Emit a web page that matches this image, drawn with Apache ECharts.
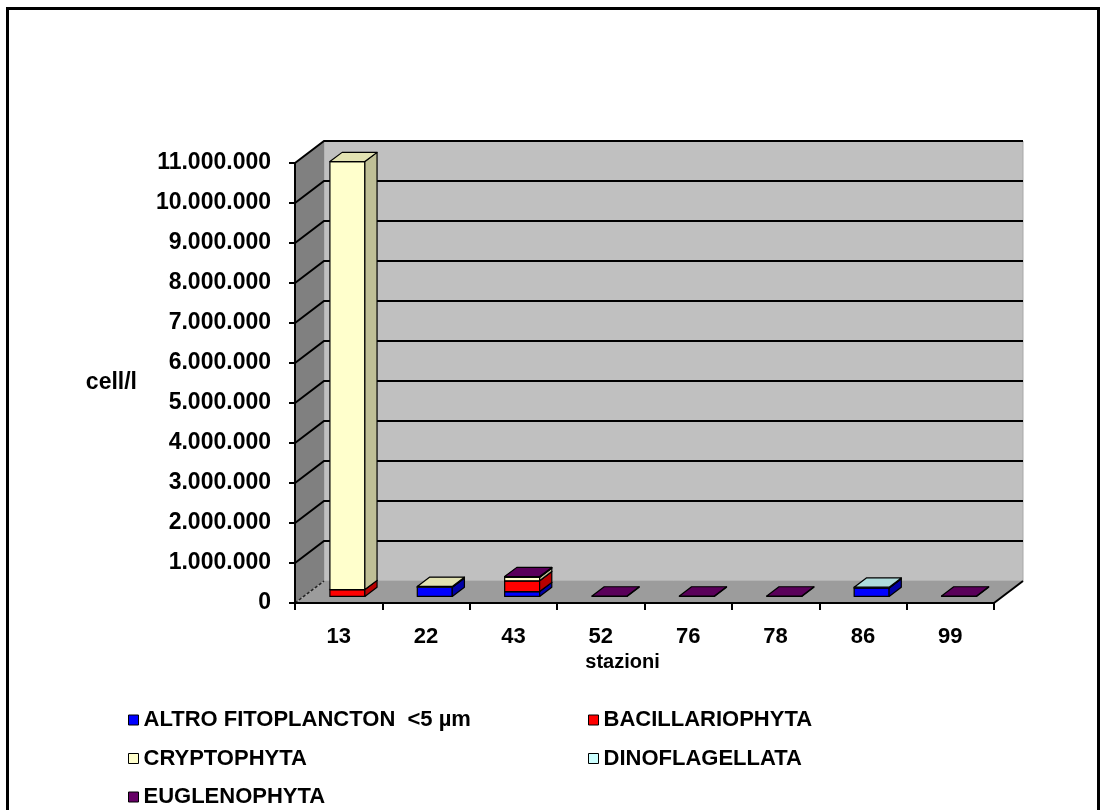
<!DOCTYPE html>
<html>
<head>
<meta charset="utf-8">
<script src="https://cdn.jsdelivr.net/npm/echarts@6.0.0/dist/echarts.min.js"></script>
<style>
  html, body { margin: 0; padding: 0; background: #ffffff; }
  #chart { width: 1106px; height: 810px; }
</style>
</head>
<body>
<div id="chart"></div>
<script>
// Phytoplankton density per station (cell/l), stacked by group
const stazioni = ['13', '22', '43', '52', '76', '78', '86', '99'];
const altroFitoplancton = [0, 230000, 120000, 0, 0, 0, 210000, 0];
const bacillariophyta   = [170000, 0, 270000, 0, 0, 0, 0, 0];
const cryptophyta       = [10700000, 20000, 90000, 0, 0, 0, 0, 0];
const dinoflagellata    = [0, 0, 0, 0, 0, 0, 20000, 0];
const euglenophyta      = [0, 0, 15000, 10000, 10000, 10000, 0, 10000];
const seriesNames = ['ALTRO FITOPLANCTON  <5 µm', 'BACILLARIOPHYTA', 'CRYPTOPHYTA', 'DINOFLAGELLATA', 'EUGLENOPHYTA'];
const seriesValues = [altroFitoplancton, bacillariophyta, cryptophyta, dinoflagellata, euglenophyta];
const yMax = 11000000;
const yStep = 1000000;

// ---- styling ----
const FONT = '"Liberation Sans", Arial, Helvetica, sans-serif';
const DEPTH = [29, -22];     // wall depth projection in px
const BAR_FRONT = 0.3;       // where the column front sits inside the depth
const BAR_DEPTH = 0.42;      // column depth as a share of the wall depth
const BAR_WIDTH = 0.4;       // column width as a share of the category band
const faces = [
  { front: '#0000FF', side: '#0000A8', top: '#2020E0' },
  { front: '#FF0000', side: '#B80000', top: '#E00000' },
  { front: '#FFFFCC', side: '#BFBF96', top: '#E2E2B2' },
  { front: '#CCFFFF', side: '#96BFBF', top: '#AEDCDC' },
  { front: '#660066', side: '#440044', top: '#5A005A' }
];

function fmtThousands(v) {
  return String(v).replace(/\B(?=(\d{3})+(?!\d))/g, '.');
}

// back wall, side wall, floor and gridlines of the 3D box
function renderWalls(params, api) {
  const n = stazioni.length;
  const band = api.size([1, 0])[0];
  const x0 = api.coord([0, 0])[0] - band / 2;
  const x1 = api.coord([n - 1, 0])[0] + band / 2;
  const yb = api.coord([0, 0])[1];
  const yt = api.coord([0, yMax])[1];
  const dx = DEPTH[0], dy = DEPTH[1];
  const children = [
    { type: 'polygon', shape: { points: [[x0 + dx, yt + dy], [x1 + dx, yt + dy], [x1 + dx, yb + dy], [x0 + dx, yb + dy]] },
      style: { fill: '#C0C0C0', stroke: '#A8A8A8', lineWidth: 1 } },
    { type: 'polygon', shape: { points: [[x0, yb], [x0, yt], [x0 + dx, yt + dy], [x0 + dx, yb + dy]] },
      style: { fill: '#808080' } },
    { type: 'polygon', shape: { points: [[x0, yb], [x1, yb], [x1 + dx, yb + dy], [x0 + dx, yb + dy]] },
      style: { fill: '#9C9C9C' } }
  ];
  for (let v = yStep; v <= yMax; v += yStep) {
    const y = api.coord([0, v])[1];
    children.push({ type: 'polyline', shape: { points: [[x0, y], [x0 + dx, y + dy], [x1 + dx, y + dy]] },
      style: { stroke: '#000', lineWidth: 2, fill: null } });
  }
  children.push({ type: 'line', shape: { x1: x0, y1: yb, x2: x0 + dx, y2: yb + dy },
    style: { stroke: '#222', lineWidth: 1.5, lineDash: [3, 2] } });
  children.push({ type: 'line', shape: { x1: x1, y1: yb, x2: x1 + dx, y2: yb + dy },
    style: { stroke: '#000', lineWidth: 2 } });
  return { type: 'group', children: children };
}

// one stacked 3D column segment
function makeBoxRenderer(face) {
  return function (params, api) {
    const ci = api.value(0), lo = api.value(1), hi = api.value(2);
    if (!(hi > lo)) return null;
    const band = api.size([1, 0])[0];
    const pLo = api.coord([ci, lo]);
    const pHi = api.coord([ci, hi]);
    const w = band * BAR_WIDTH;
    const xl = pLo[0] - w / 2 + BAR_FRONT * DEPTH[0];
    const xr = xl + w;
    const yb = pLo[1] + BAR_FRONT * DEPTH[1];
    const yt = pHi[1] + BAR_FRONT * DEPTH[1];
    const bx = BAR_DEPTH * DEPTH[0], by = BAR_DEPTH * DEPTH[1];
    const edge = { stroke: '#000', lineWidth: 1.2, lineJoin: 'round' };
    return {
      type: 'group',
      children: [
        { type: 'polygon', shape: { points: [[xl, yt], [xr, yt], [xr, yb], [xl, yb]] },
          style: Object.assign({ fill: face.front }, edge) },
        { type: 'polygon', shape: { points: [[xr, yb], [xr + bx, yb + by], [xr + bx, yt + by], [xr, yt]] },
          style: Object.assign({ fill: face.side }, edge) },
        { type: 'polygon', shape: { points: [[xl, yt], [xr, yt], [xr + bx, yt + by], [xl + bx, yt + by]] },
          style: Object.assign({ fill: face.top }, edge) }
      ]
    };
  };
}

// stack the groups station by station
const stackBase = stazioni.map(() => 0);
const barSeries = seriesValues.map((vals, s) => {
  const data = vals.map((v, i) => {
    const lo = stackBase[i];
    stackBase[i] += v;
    return [i, lo, lo + v];
  });
  return {
    name: seriesNames[s],
    type: 'custom',
    z: 3,
    clip: false,
    itemStyle: { color: faces[s].front },
    encode: { x: 0, y: [1, 2] },
    renderItem: makeBoxRenderer(faces[s]),
    data: data
  };
});

const legendText = { fontFamily: FONT, fontWeight: 'bold', fontSize: 22, color: '#000', lineHeight: 24 };
const legendCommon = {
  orient: 'vertical', top: 708, padding: 0, itemGap: 14.5,
  itemWidth: 10, itemHeight: 10, icon: 'rect', selectedMode: false,
  itemStyle: { borderColor: '#000', borderWidth: 1 },
  textStyle: legendText
};

const chart = echarts.init(document.getElementById('chart'), null, { renderer: 'canvas' });
chart.setOption({
  animation: false,
  backgroundColor: '#ffffff',
  grid: { left: 295, top: 163, width: 699, height: 440, containLabel: false, outerBoundsMode: 'none' },
  legend: [
    Object.assign({ left: 128, data: [seriesNames[0], seriesNames[2], seriesNames[4]] }, legendCommon),
    Object.assign({ left: 588, data: [seriesNames[1], seriesNames[3]] }, legendCommon)
  ],
  xAxis: {
    type: 'category',
    data: stazioni,
    z: 5,
    name: 'stazioni',
    nameLocation: 'middle',
    nameGap: 49,
    nameTextStyle: { fontFamily: FONT, fontWeight: 'bold', fontSize: 20, color: '#000', padding: [0, 44, 0, 0] },
    axisLine: { show: true, lineStyle: { color: '#000', width: 2 } },
    axisTick: { show: true, length: 7, lineStyle: { color: '#000', width: 2 } },
    axisLabel: { margin: 23, fontFamily: FONT, fontWeight: 'bold', fontSize: 22, color: '#000' },
    splitLine: { show: false }
  },
  yAxis: {
    type: 'value',
    min: 0,
    max: yMax,
    interval: yStep,
    z: 5,
    name: 'cell/l',
    nameLocation: 'middle',
    nameRotate: 0,
    nameGap: 158,
    nameTextStyle: { fontFamily: FONT, fontWeight: 'bold', fontSize: 23, color: '#000' },
    axisLine: { show: true, lineStyle: { color: '#000', width: 2 } },
    axisTick: { show: true, length: 6, lineStyle: { color: '#000', width: 2 } },
    axisLabel: { margin: 24, fontFamily: FONT, fontWeight: 'bold', fontSize: 23, color: '#000', formatter: fmtThousands },
    splitLine: { show: false }
  },
  graphic: [
    { type: 'rect', silent: true, z: -10,
      shape: { x: 7.5, y: 8.5, width: 1091, height: 830 },
      style: { fill: null, stroke: '#000', lineWidth: 3 } }
  ],
  series: [{
    type: 'custom',
    name: 'walls',
    z: 1,
    silent: true,
    clip: false,
    encode: { x: 0, y: 1 },
    renderItem: renderWalls,
    data: [[0, 0]]
  }].concat(barSeries)
});
</script>
</body>
</html>
